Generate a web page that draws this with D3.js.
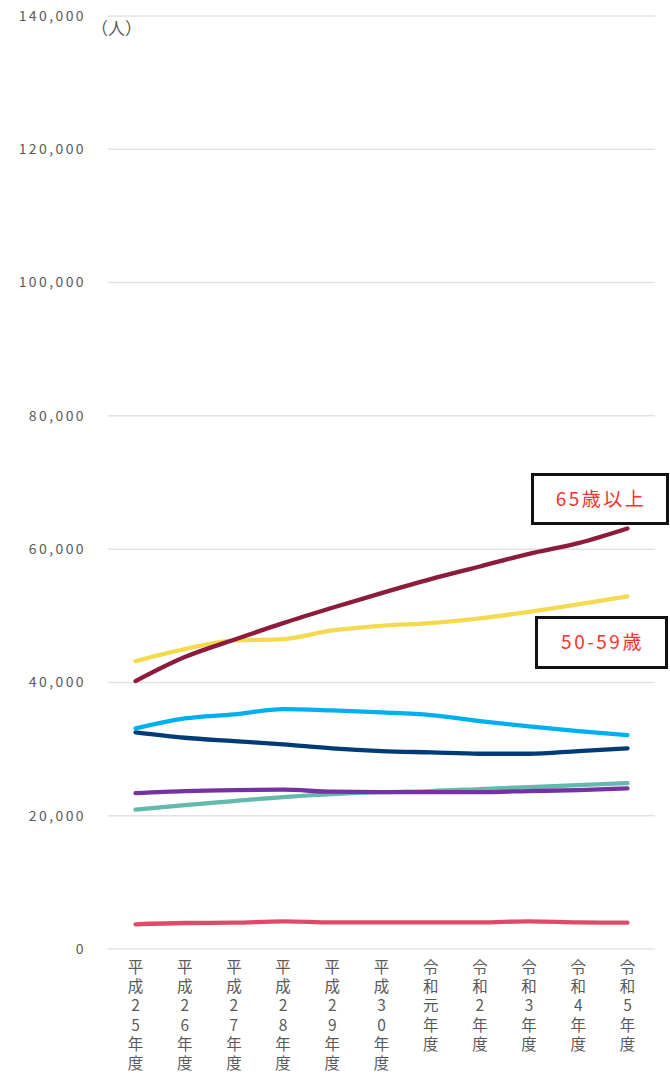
<!DOCTYPE html>
<html><head><meta charset="utf-8">
<script src="https://cdn.jsdelivr.net/npm/d3@7"></script>
<style>
body{margin:0;background:#fff;}
text{font-family:"Noto Sans CJK JP","Noto Sans",sans-serif;}
</style></head>
<body><svg id="c" width="670" height="1081"></svg>
<script>
const categories=["平成25年度","平成26年度","平成27年度","平成28年度","平成29年度","平成30年度","令和元年度","令和2年度","令和3年度","令和4年度","令和5年度"];
const yTicks=[0,20000,40000,60000,80000,100000,120000,140000];
const age65=[40200,43800,46400,48900,51200,53400,55500,57400,59300,60900,63100];
const age50=[43200,45000,46300,46500,47800,48500,48900,49600,50600,51700,52900];
const lightBlue=[33100,34600,35200,36000,35800,35500,35100,34200,33400,32700,32100];
const navy=[32500,31700,31200,30700,30100,29700,29500,29300,29300,29700,30100];
const purple=[23400,23700,23850,23900,23600,23550,23550,23550,23700,23850,24100];
const teal=[20900,21600,22200,22800,23250,23550,23700,24000,24300,24600,24900];
const pink=[3700,3900,3950,4150,4000,4000,4000,4000,4150,4000,3950];
const series=[
 {name:"pink",values:pink,color:"#df4a6b"},
 {name:"teal",values:teal,color:"#62b9ac"},
 {name:"purple",values:purple,color:"#7432a3"},
 {name:"navy",values:navy,color:"#003b78"},
 {name:"lightBlue",values:lightBlue,color:"#00aff0"},
 {name:"age50",values:age50,color:"#f3da4e"},
 {name:"age65",values:age65,color:"#8c1b3c"}
];
const labels=[{text:"65歳以上",x:531,y:473,w:138,h:52},{text:"50-59歳",x:535,y:616,w:133,h:53}];

const svg=d3.select("#c");
const x=d3.scalePoint().domain(categories).range([108,655]).padding(0.56);
const y=d3.scaleLinear().domain([0,140000]).range([949,16]);

// grid
svg.append("g").selectAll("line").data(yTicks).join("line")
 .attr("x1",108).attr("x2",655).attr("y1",d=>y(d)).attr("y2",d=>y(d))
 .attr("stroke","#e2e2e2").attr("stroke-width",1.5);
// y labels
svg.append("g").selectAll("text").data(yTicks).join("text")
 .attr("x",86).attr("y",d=>y(d)).attr("dy","0.35em").attr("text-anchor","end")
 .attr("font-size",14).attr("letter-spacing",2.4).attr("fill","#5a5a5a").text(d=>d3.format(",")(d));
svg.append("text").attr("x",91).attr("y",29).attr("dy","0.35em").attr("font-size",17).attr("fill","#5a5a5a").text("（人）");

// x labels vertical
svg.append("g").selectAll("text").data(categories).join("text")
 .attr("x",d=>x(d)).attr("y",959)
 .style("writing-mode","vertical-rl").style("text-orientation","upright")
 .attr("font-size",15.5).attr("letter-spacing",3.8).attr("fill","#5a5a5a")
 .text(d=>d);

// lines
const line=d3.line().x((d,i)=>x(categories[i])).y(d=>y(d)).curve(d3.curveMonotoneX);
svg.append("g").selectAll("path").data(series).join("path")
 .attr("d",d=>line(d.values)).attr("fill","none").attr("stroke",d=>d.color)
 .attr("stroke-width",4.3).attr("stroke-linecap","round");

// labels
const lg=svg.append("g").selectAll("g").data(labels).join("g");
lg.append("rect").attr("x",d=>d.x+1.5).attr("y",d=>d.y+1.5).attr("width",d=>d.w-3).attr("height",d=>d.h-3)
 .attr("fill","#fff").attr("stroke","#111").attr("stroke-width",3);
lg.append("text").attr("x",d=>d.x+d.w/2+1).attr("y",d=>d.y+d.h/2).attr("dy","0.36em")
 .attr("text-anchor","middle").attr("font-size",19).attr("letter-spacing",2.5).attr("fill","#ff3030").text(d=>d.text);
</script></body></html>
